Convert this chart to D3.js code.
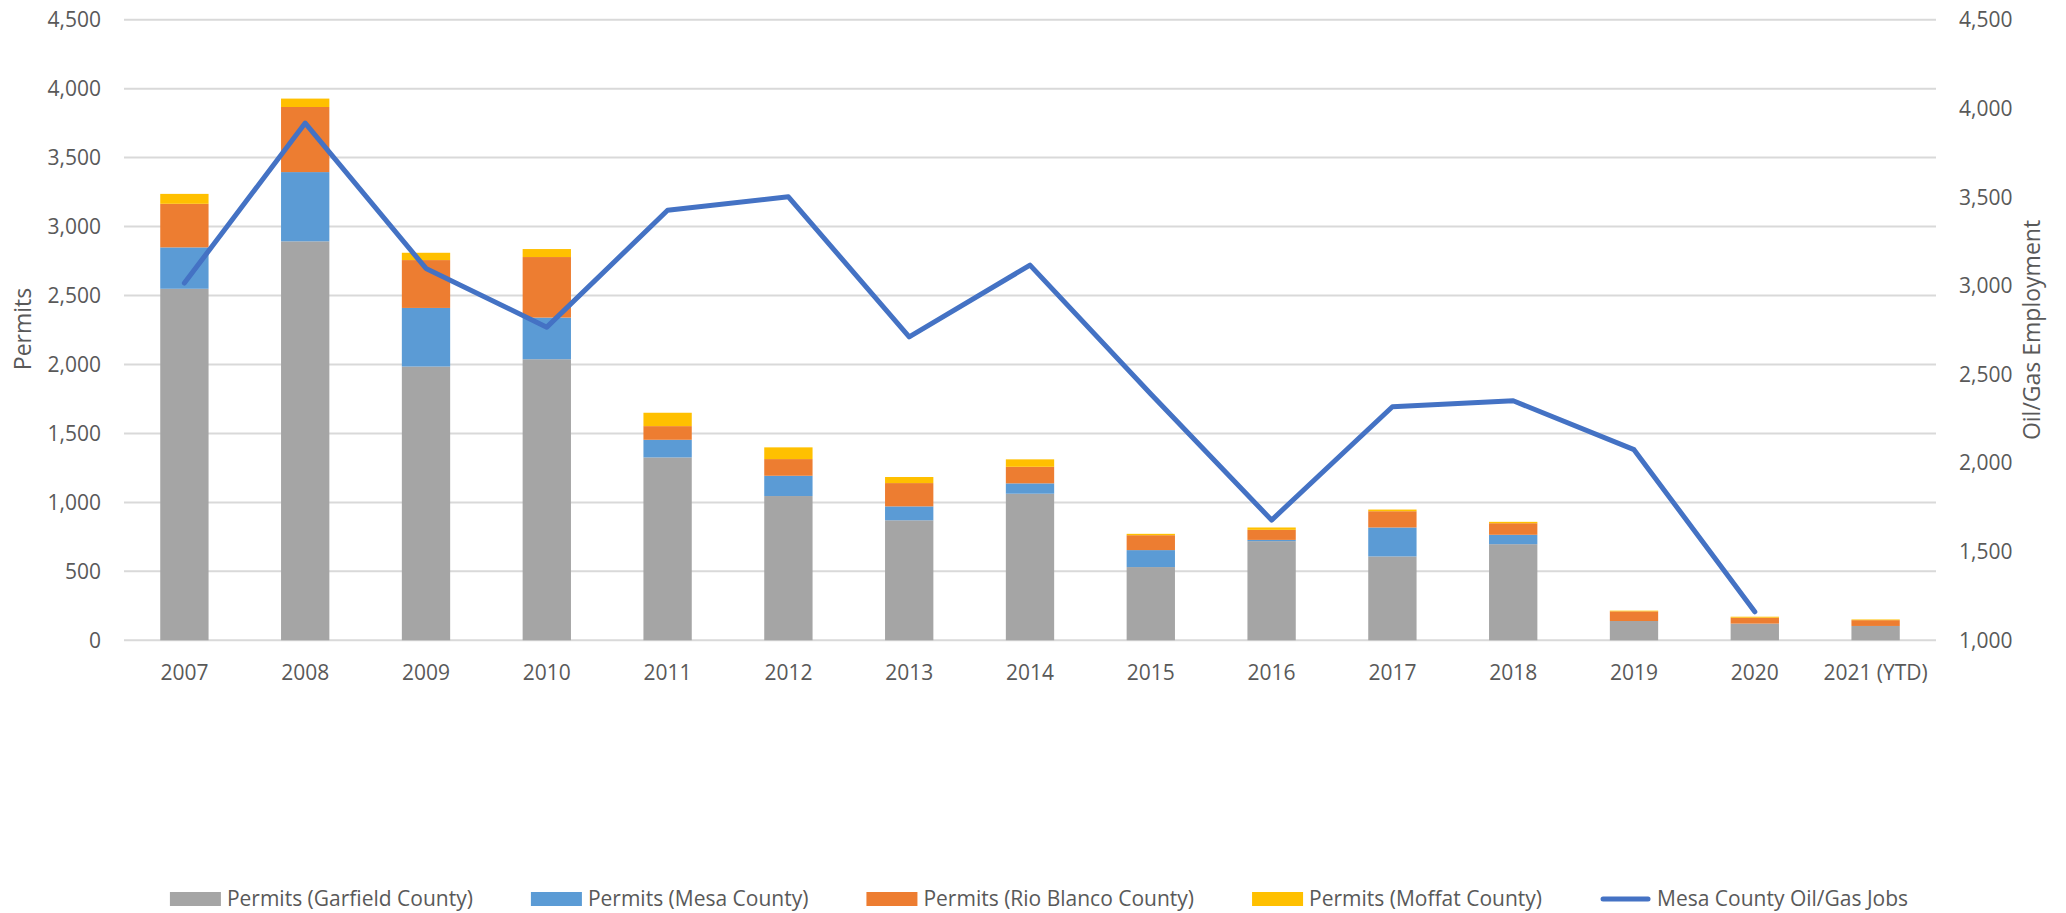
<!DOCTYPE html>
<html>
<head>
<meta charset="utf-8">
<script src="https://cdn.jsdelivr.net/npm/d3@7.9.0/dist/d3.min.js"></script>
<style>
  body { margin: 0; background: #fff; }
  svg { display: block; font-family: "Open Sans", "Noto Sans", sans-serif; }
</style>
</head>
<body>
<svg id="chart" width="2066" height="913"></svg>
<script>
// permits by county and Mesa County oil/gas jobs
const years = ["2007", "2008", "2009", "2010", "2011", "2012", "2013", "2014",
  "2015", "2016", "2017", "2018", "2019", "2020", "2021 (YTD)"];
const garfield = [2549, 2893, 1985, 2038, 1326, 1046, 870, 1063, 531, 719, 608, 697, 140, 121, 104];
const mesa = [300, 502, 425, 302, 128, 147, 101, 75, 123, 9, 210, 68, 0, 0, 0];
const rioBlanco = [316, 472, 347, 439, 99, 121, 169, 120, 108, 73, 118, 84, 70, 43, 42];
const moffat = [72, 61, 53, 58, 97, 85, 44, 54, 10, 17, 12, 10, 5, 7, 5];
const jobs = [3015, 3917, 3097, 2766, 3425, 3501, 2711, 3116, 2389, 1678, 2317, 2351, 2075, 1161, null];

const leftTicks = d3.range(0, 4501, 500);
const rightTicks = d3.range(1000, 4501, 500);

const seriesNames = ["Permits (Garfield County)", "Permits (Mesa County)",
  "Permits (Rio Blanco County)", "Permits (Moffat County)"];
const seriesKeys = ["garfield", "mesa", "rioBlanco", "moffat"];
const colors = ["#A5A5A5", "#5B9BD5", "#ED7D31", "#FFC000"];
const lineName = "Mesa County Oil/Gas Jobs";
const lineColor = "#4472C4";

const svg = d3.select("#chart");
// plot area edges
const plotL = 124, plotR = 1936, plotT = 19.7, plotB = 640.3;

const x = d3.scaleBand().domain(years).range([plotL, plotR])
  .paddingInner(0.6).paddingOuter(0.3);
const y = d3.scaleLinear().domain([0, 4500]).range([plotB, plotT]);
const y2 = d3.scaleLinear().domain([1000, 4500]).range([plotB, plotT]);

const fmt = d3.format(",");
const textColor = "#595959";

// gridlines
svg.append("g").selectAll("line").data(leftTicks).join("line")
  .attr("x1", plotL).attr("x2", plotR)
  .attr("y1", d => y(d)).attr("y2", d => y(d))
  .attr("stroke", "#D9D9D9").attr("stroke-width", 2);

// left axis labels
svg.append("g").selectAll("text").data(leftTicks).join("text")
  .attr("x", 101).attr("y", d => y(d) + 7.5)
  .attr("text-anchor", "end").attr("font-size", 21).attr("fill", textColor)
  .text(d => fmt(d));

// right axis labels
svg.append("g").selectAll("text").data(rightTicks).join("text")
  .attr("x", 1959).attr("y", d => y2(d) + 7.5)
  .attr("text-anchor", "start").attr("font-size", 21).attr("fill", textColor)
  .text(d => fmt(d));

// x labels
svg.append("g").selectAll("text").data(years).join("text")
  .attr("x", d => x(d) + x.bandwidth() / 2).attr("y", 679.5)
  .attr("text-anchor", "middle").attr("font-size", 21).attr("fill", textColor)
  .text(d => d);

// axis titles
svg.append("text")
  .attr("transform", "translate(31,329) rotate(-90)")
  .attr("text-anchor", "middle").attr("font-size", 23).attr("fill", textColor)
  .text("Permits");
svg.append("text")
  .attr("transform", "translate(2040,330) rotate(-90)")
  .attr("text-anchor", "middle").attr("font-size", 23).attr("fill", textColor)
  .text("Oil/Gas Employment");

// stacked bars
const table = years.map((yr, i) => ({
  year: yr, garfield: garfield[i], mesa: mesa[i], rioBlanco: rioBlanco[i], moffat: moffat[i]
}));
const stacked = d3.stack().keys(seriesKeys)(table);

svg.append("g").selectAll("g").data(stacked).join("g")
  .attr("fill", (d, i) => colors[i])
  .selectAll("rect").data(d => d).join("rect")
  .attr("x", d => x(d.data.year))
  .attr("width", x.bandwidth())
  .attr("y", d => y(d[1]))
  .attr("height", d => y(d[0]) - y(d[1]));

// jobs line
const line = d3.line()
  .defined(d => d[1] != null)
  .x(d => x(d[0]) + x.bandwidth() / 2)
  .y(d => y2(d[1]));
svg.append("path")
  .datum(years.map((yr, i) => [yr, jobs[i]]))
  .attr("d", line)
  .attr("fill", "none").attr("stroke", lineColor).attr("stroke-width", 5)
  .attr("stroke-linejoin", "round").attr("stroke-linecap", "round");

// legend
const legendItems = seriesNames.map((n, i) => ({ name: n, color: colors[i], type: "rect" }))
  .concat([{ name: lineName, color: lineColor, type: "line" }]);
const legend = svg.append("g");
const swW = 51, swGap = 6, itemGap = 58, legY = 899;
let cx = 0;
legendItems.forEach(item => {
  const g = legend.append("g").attr("transform", `translate(${cx},0)`);
  if (item.type === "rect") {
    g.append("rect").attr("x", 0).attr("y", legY - 7).attr("width", swW).attr("height", 14)
      .attr("fill", item.color);
  } else {
    g.append("line").attr("x1", 3).attr("x2", swW - 3).attr("y1", legY).attr("y2", legY)
      .attr("stroke", item.color).attr("stroke-width", 5).attr("stroke-linecap", "round");
  }
  const t = g.append("text").attr("x", swW + swGap).attr("y", legY + 7)
    .attr("font-size", 21).attr("fill", textColor).text(item.name);
  cx += swW + swGap + t.node().getComputedTextLength() + itemGap;
});
const totalW = cx - itemGap;
legend.attr("transform", `translate(${1039 - totalW / 2},0)`);
</script>
</body>
</html>
